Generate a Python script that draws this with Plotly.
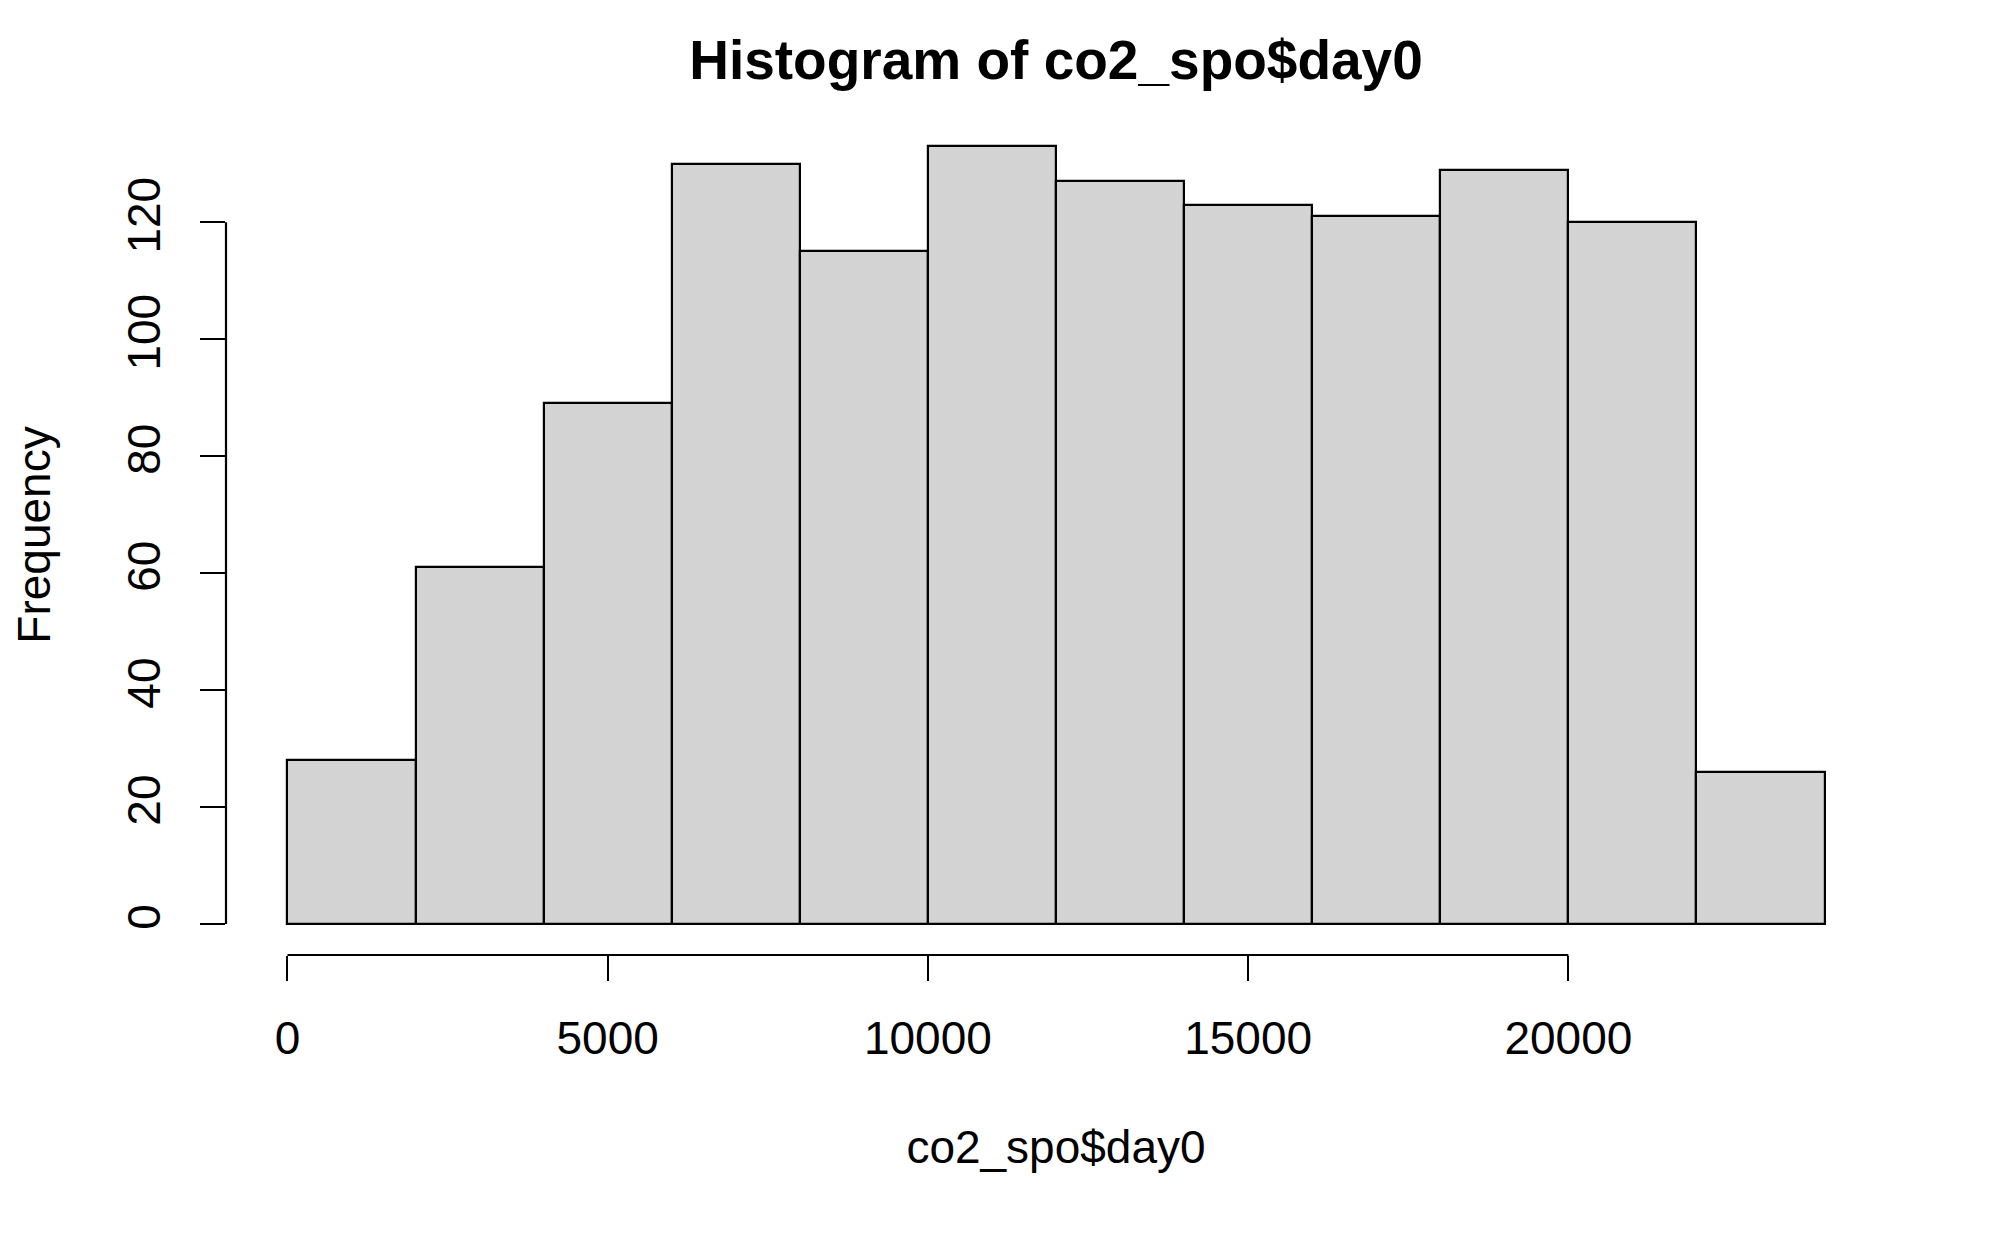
import plotly.graph_objects as go

# Data
bin_edges = [0, 2000, 4000, 6000, 8000, 10000, 12000, 14000, 16000, 18000, 20000, 22000, 24000]
counts = [28, 61, 89, 130, 115, 133, 127, 123, 121, 129, 120, 26]
x_ticks = [0, 5000, 10000, 15000, 20000]
y_ticks = [0, 20, 40, 60, 80, 100, 120]
title_text = "Histogram of co2_spo$day0"
x_label = "co2_spo$day0"
y_label = "Frequency"

centers = [(bin_edges[i] + bin_edges[i + 1]) / 2 for i in range(len(counts))]
widths = [bin_edges[i + 1] - bin_edges[i] for i in range(len(counts))]

FONT = "Liberation Sans, Arial, sans-serif"
FS = 46

fig = go.Figure()
fig.add_trace(go.Bar(
    x=centers, y=counts, width=widths,
    marker=dict(color="#D3D3D3", line=dict(color="black", width=2.2)),
    hoverinfo="x+y",
))

span = bin_edges[-1] - bin_edges[0]
xr = [bin_edges[0] - 0.04 * span, bin_edges[-1] + 0.04 * span]
ymax = max(counts)
yr = [-0.04 * ymax, ymax * 1.04]

fig.update_layout(
    width=2000, height=1234,
    paper_bgcolor="white", plot_bgcolor="white",
    margin=dict(l=217.5, r=121.5, t=107, b=287, autoexpand=False),
    bargap=0,
    showlegend=False,
    font=dict(family=FONT, color="black", size=FS),
    title=dict(text="<b>" + title_text + "</b>", x=0.5, xref="paper", xanchor="center",
               y=1 - 52 / 1234, yref="container", yanchor="middle",
               font=dict(family=FONT, size=55, color="black")),
    xaxis=dict(range=xr, tickvals=x_ticks, ticktext=[str(v) for v in x_ticks],
               ticks="outside", ticklen=25, tickwidth=2.2, tickcolor="black",
               showline=False, showgrid=False, zeroline=False,
               tickfont=dict(family=FONT, size=FS, color="black"),
               ticklabelstandoff=18,
               title=dict(text=x_label, standoff=67, font=dict(family=FONT, size=FS, color="black"))),
    yaxis=dict(range=yr, tickvals=y_ticks, ticktext=[str(v) for v in y_ticks],
               ticks="outside", ticklen=25, tickwidth=2.2, tickcolor="black",
               showline=False, showgrid=False, zeroline=False, tickangle=-90,
               tickfont=dict(family=FONT, size=FS, color="black"),
               ticklabelstandoff=22,
               title=dict(text=y_label, standoff=52, font=dict(family=FONT, size=FS, color="black"))),
)

# R-style detached axis lines spanning only the tick range
fig.add_shape(type="line", xref="x", yref="paper", x0=x_ticks[0], x1=x_ticks[-1], y0=0, y1=0,
              line=dict(color="black", width=2.2))
fig.add_shape(type="line", xref="paper", yref="y", x0=0, x1=0, y0=y_ticks[0], y1=y_ticks[-1],
              line=dict(color="black", width=2.2))

fig.write_html("out.html")
